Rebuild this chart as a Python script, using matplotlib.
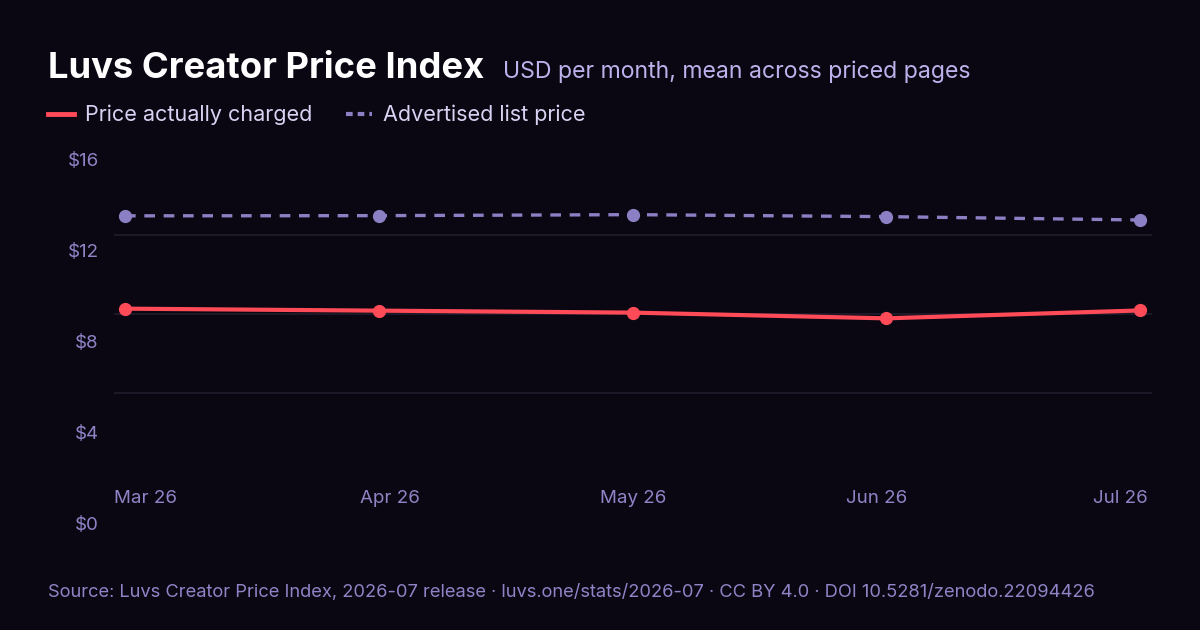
import matplotlib
matplotlib.use("Agg")
import matplotlib.pyplot as plt
from matplotlib.lines import Line2D

# Data
months = ["Mar 26", "Apr 26", "May 26", "Jun 26", "Jul 26"]
charged = [8.27, 8.17, 8.07, 7.78, 8.18]
listed = [12.97, 12.98, 13.03, 12.93, 12.76]
y_ticks = [0, 4, 8, 12, 16]
y_labels = ["$0", "$4", "$8", "$12", "$16"]

BG = "#0a0713"
RED = "#ff4b57"
LAV = "#8c80c4"
TICK = "#8f84c6"
SUB = "#bdb2ec"
LEG = "#d9d2f2"
GRID = "#1c1828"

plt.rcParams["font.family"] = ["Inter", "DejaVu Sans"]

W, H = 1200, 630
fig = plt.figure(figsize=(12, 6.3), dpi=100, facecolor=BG)


def box(l, t, r, b):
    return [l / W, 1 - b / H, (r - l) / W, (b - t) / H]


# main plot area
ax = fig.add_axes(box(114, 156, 1152, 472))
ax.set_facecolor(BG)
x = list(range(len(months)))
ax.plot(x, listed, color=LAV, lw=2.4, ls=(0, (3.2, 2.6)), marker="o", ms=8.5,
        label="Advertised list price", zorder=3)
ax.plot(x, charged, color=RED, lw=3, marker="o", ms=8.5,
        label="Price actually charged", zorder=4)
ax.set_xlim(-11 / 253.75, 4 + 12 / 253.75)
ax.set_ylim(0, 16)
ax.set_yticks([4, 8, 12])
ax.yaxis.grid(True, color=GRID, lw=1.5)
ax.set_axisbelow(True)
ax.tick_params(left=False, bottom=False, labelleft=False, labelbottom=False)
for s in ax.spines.values():
    s.set_visible(False)

# x labels (spread across the plot width)
axx = fig.add_axes(box(146, 156, 1120, 472))
axx.patch.set_visible(False)
axx.set_xlim(0, len(months) - 1)
axx.set_xticks(x)
axx.set_xticklabels(months)
axx.set_yticks([])
axx.tick_params(length=0, pad=13, labelsize=13.5, labelcolor=TICK)
for s in axx.spines.values():
    s.set_visible(False)

# y labels
axy = fig.add_axes(box(114, 160, 1152, 523))
axy.patch.set_visible(False)
axy.set_ylim(0, 16)
axy.set_yticks(y_ticks)
axy.set_yticklabels(y_labels)
axy.set_xticks([])
axy.tick_params(length=0, pad=11, labelsize=13.5, labelcolor=TICK)
for s in axy.spines.values():
    s.set_visible(False)

# title and subtitle
fig.text(48 / W, 1 - 78 / H, "Luvs Creator Price Index", color="white",
         fontsize=26.2, fontweight="bold", ha="left", va="baseline")
fig.text(503 / W, 1 - 78 / H, "USD per month, mean across priced pages",
         color=SUB, fontsize=16.6, ha="left", va="baseline")

# legend
handles = [Line2D([], [], color=RED, lw=3.5),
           Line2D([], [], color=LAV, lw=3, ls=(0, (1.6, 1.2)))]
fig.legend(handles, ["Price actually charged", "Advertised list price"],
           loc="center left", bbox_to_anchor=(48 / W, 1 - 115 / H), ncol=2,
           frameon=False, fontsize=15.5, labelcolor=LEG, handlelength=1.2,
           handletextpad=0.5, columnspacing=1.6, borderpad=0,
           borderaxespad=0)

fig.text(48 / W, 1 - 592 / H,
         "Source: Luvs Creator Price Index, 2026-07 release \u00b7 luvs.one/stats/2026-07 \u00b7 CC BY 4.0 \u00b7 DOI 10.5281/zenodo.22094426",
         color=TICK, fontsize=13.2, ha="left", va="center")

fig.savefig("out.png", dpi=100, facecolor=BG)
